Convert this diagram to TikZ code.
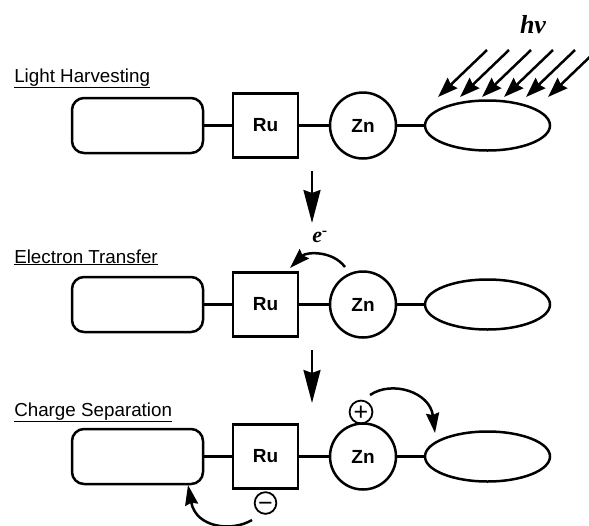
\documentclass[tikz,border=0pt]{standalone}
\usepackage{fontspec}
\setmainfont{Liberation Sans}
\newfontfamily\serifbi{Liberation Serif}
\usetikzlibrary{shapes.geometric,arrows.meta}
\begin{document}
\begin{tikzpicture}[x=1pt,y=-1pt,line width=2.5pt,
  chainbox/.style={draw,rounded corners=12pt,minimum width=131pt,minimum height=55pt,inner sep=0pt},
  rubox/.style={draw,minimum width=65pt,minimum height=64pt,inner sep=0pt,font=\fontsize{19}{19}\selectfont\bfseries},
  zncirc/.style={draw,circle,minimum size=66pt,inner sep=0pt,font=\fontsize{19}{19}\selectfont\bfseries},
  accell/.style={draw,ellipse,minimum width=125pt,minimum height=50pt,inner sep=0pt},
  titletext/.style={anchor=base west,inner sep=0pt,font=\fontsize{18.8}{20}\selectfont},
  bigarrow/.style={-{Stealth[length=33pt,width=17pt,inset=3pt]}},
  curvearrow/.style={-{Stealth[length=20pt,width=13pt,inset=2pt]}},
  lightarrow/.style={-{Stealth[length=20pt,width=14pt,inset=2pt]}},
  chargecirc/.style={draw,circle,minimum size=20pt,inner sep=0pt,line width=1.8pt,font=\fontsize{25}{25}\selectfont,text depth=0pt},
  serifbold/.style={font=\fontsize{26}{26}\selectfont\serifbi\bfseries\itshape,inner sep=0pt}
]
\useasboundingbox (0,0) rectangle (589,525);

% titles
\node[titletext] (t1) at (13,82) {\underline{Light Harvesting}};
\node[titletext] (t2) at (13,263) {\underline{Electron Transfer}};
\node[titletext] (t3) at (13,416) {\underline{Charge Separation}};

% rows
\foreach \r/\y in {1/125.5,2/304.5,3/456.5}{
  \node[chainbox] (c\r) at (137.5,\y) {};
  \node[rubox] (ru\r) at (265.5,\y) {Ru};
  \node[zncirc] (zn\r) at (363,\y) {Zn};
  \node[accell] (ac\r) at (487.5,\y) {};
  \draw (c\r.east) -- (ru\r.west);
  \draw (ru\r.east) -- (zn\r.west);
  \draw (zn\r.east) -- (ac\r.west);
}

% light
\node[serifbold] (hv) at (533,25) {hν};
\foreach \i in {0,...,5}{
  \coordinate (ls\i) at (487+22*\i,50);
  \coordinate (le\i) at (438+22*\i,97);
  \draw[lightarrow] (ls\i) -- (le\i);
}

% step arrows
\coordinate (a1s) at (312,171);
\coordinate (a1e) at (312,223);
\coordinate (a2s) at (312,350);
\coordinate (a2e) at (312,403);
\draw[bigarrow] (a1s) -- (a1e);
\draw[bigarrow] (a2s) -- (a2e);

% electron transfer
\node[serifbold,font=\fontsize{22}{22}\selectfont\serifbi\bfseries\itshape] (em) at (320,237) {e\textsuperscript{-}};
\coordinate (ets) at (345,267);
\coordinate (ete) at (290,268);
\draw[curvearrow] (ets) .. controls (332,250) and (306,252) .. (ete);

% charge separation
\node[chargecirc,text height=17.6pt] (plus) at (361,412) {+};
\node[chargecirc,text height=16pt] (minus) at (265.5,503) {−};
\coordinate (pts) at (370,395);
\coordinate (pte) at (435,433);
\draw[curvearrow] (pts) .. controls (392,380) and (430,392) .. (pte);
\coordinate (mts) at (252,520);
\coordinate (mte) at (188,485);
\draw[curvearrow] (mts) .. controls (232,532) and (196,528) .. (mte);
\end{tikzpicture}
\end{document}
